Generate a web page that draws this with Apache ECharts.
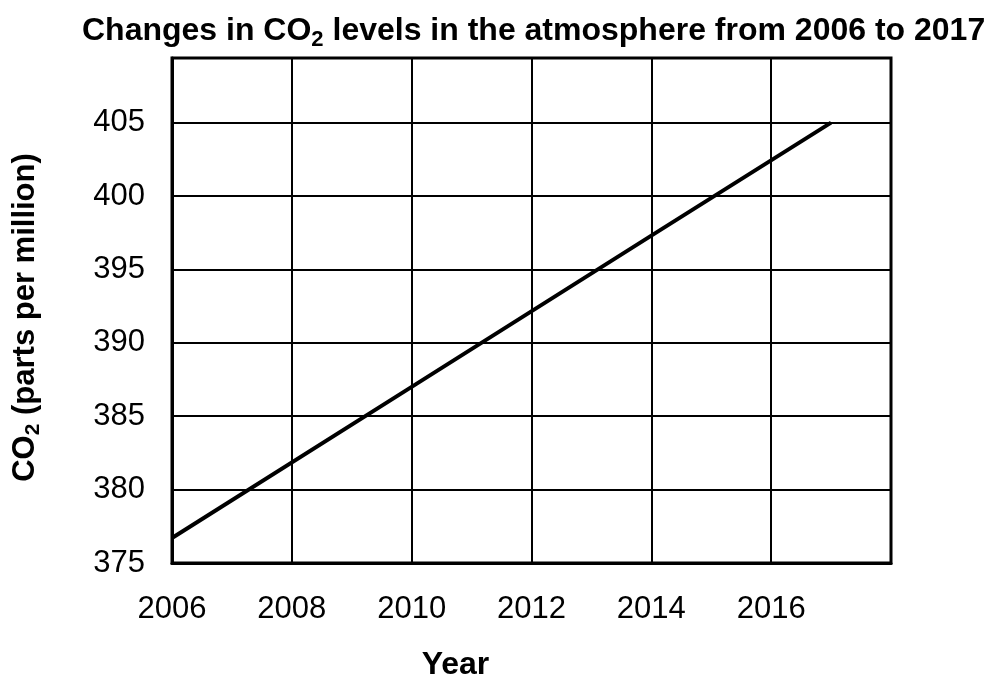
<!DOCTYPE html>
<html>
<head>
<meta charset="utf-8">
<script src="https://cdn.jsdelivr.net/npm/echarts@6/dist/echarts.min.js"></script>
<style>html,body{margin:0;padding:0;background:#fff;overflow:hidden;}#c{width:989px;height:677px;}</style>
</head>
<body>
<div id="c"></div>
<script>
var years = [2006, 2010, 2014, 2017];
var co2 = [376.7, 387.0, 397.3, 405.0];
var xTicks = [2006, 2008, 2010, 2012, 2014, 2016];
var yTicks = [375, 380, 385, 390, 395, 400, 405];

var FONT = 'Liberation Sans, Arial, sans-serif';
var chart = echarts.init(document.getElementById('c'));
var pts = years.map(function (y, i) { return [y, co2[i]]; });

chart.setOption({
  backgroundColor: '#fff',
  animation: false,
  title: {
    text: '{a|Changes in CO}{s|2}{a| levels in the atmosphere from 2006 to 2017}',
    left: 77, top: 6,
    textStyle: {
      rich: {
        a: { fontFamily: FONT, fontWeight: 'bold', fontSize: 32, color: '#000', lineHeight: 40, verticalAlign: 'middle' },
        s: { fontFamily: FONT, fontWeight: 'bold', fontSize: 22, color: '#000', lineHeight: 22, verticalAlign: 'bottom' }
      }
    }
  },
  grid: {
    left: 172, right: 98, top: 58, bottom: 114,
    show: true, borderColor: '#000', borderWidth: 3,
    containLabel: false, outerBoundsMode: 'none'
  },
  xAxis: {
    type: 'value', min: 2006, max: 2018, interval: 2,
    name: 'Year', nameLocation: 'middle', nameGap: 86,
    nameTextStyle: { fontFamily: FONT, fontWeight: 'bold', fontSize: 32, color: '#000', padding: [0, 152, 0, 0] },
    axisLine: { show: true, lineStyle: { color: '#000', width: 3 } },
    axisTick: { show: false },
    axisLabel: {
      margin: 31, fontFamily: FONT, fontSize: 31, color: '#000',
      showMaxLabel: false,
      formatter: function (v) { return xTicks.indexOf(v) >= 0 ? String(v) : ''; }
    },
    splitLine: { show: true, lineStyle: { color: '#000', width: 2 } }
  },
  yAxis: {
    type: 'value', min: 375, max: 409.4, interval: 5,
    name: '{a|CO}{s|2}{a| (parts per million)}', nameLocation: 'middle', nameGap: 128,
    nameTextStyle: {
      padding: [0, 14, 0, 0],
      rich: {
        a: { fontFamily: FONT, fontWeight: 'bold', fontSize: 31, color: '#000', lineHeight: 38, verticalAlign: 'middle' },
        s: { fontFamily: FONT, fontWeight: 'bold', fontSize: 21, color: '#000', lineHeight: 21, verticalAlign: 'bottom' }
      }
    },
    axisLine: { show: true, lineStyle: { color: '#000', width: 3 } },
    axisTick: { show: false },
    axisLabel: {
      margin: 27, fontFamily: FONT, fontSize: 31, color: '#000',
      formatter: function (v) { return yTicks.indexOf(v) >= 0 ? String(v) : ''; }
    },
    splitLine: { show: true, lineStyle: { color: '#000', width: 2 } }
  },
  series: [{
    type: 'line',
    data: pts,
    showSymbol: false,
    lineStyle: { color: '#000', width: 4 },
    z: 5
  }]
});
</script>
</body>
</html>
